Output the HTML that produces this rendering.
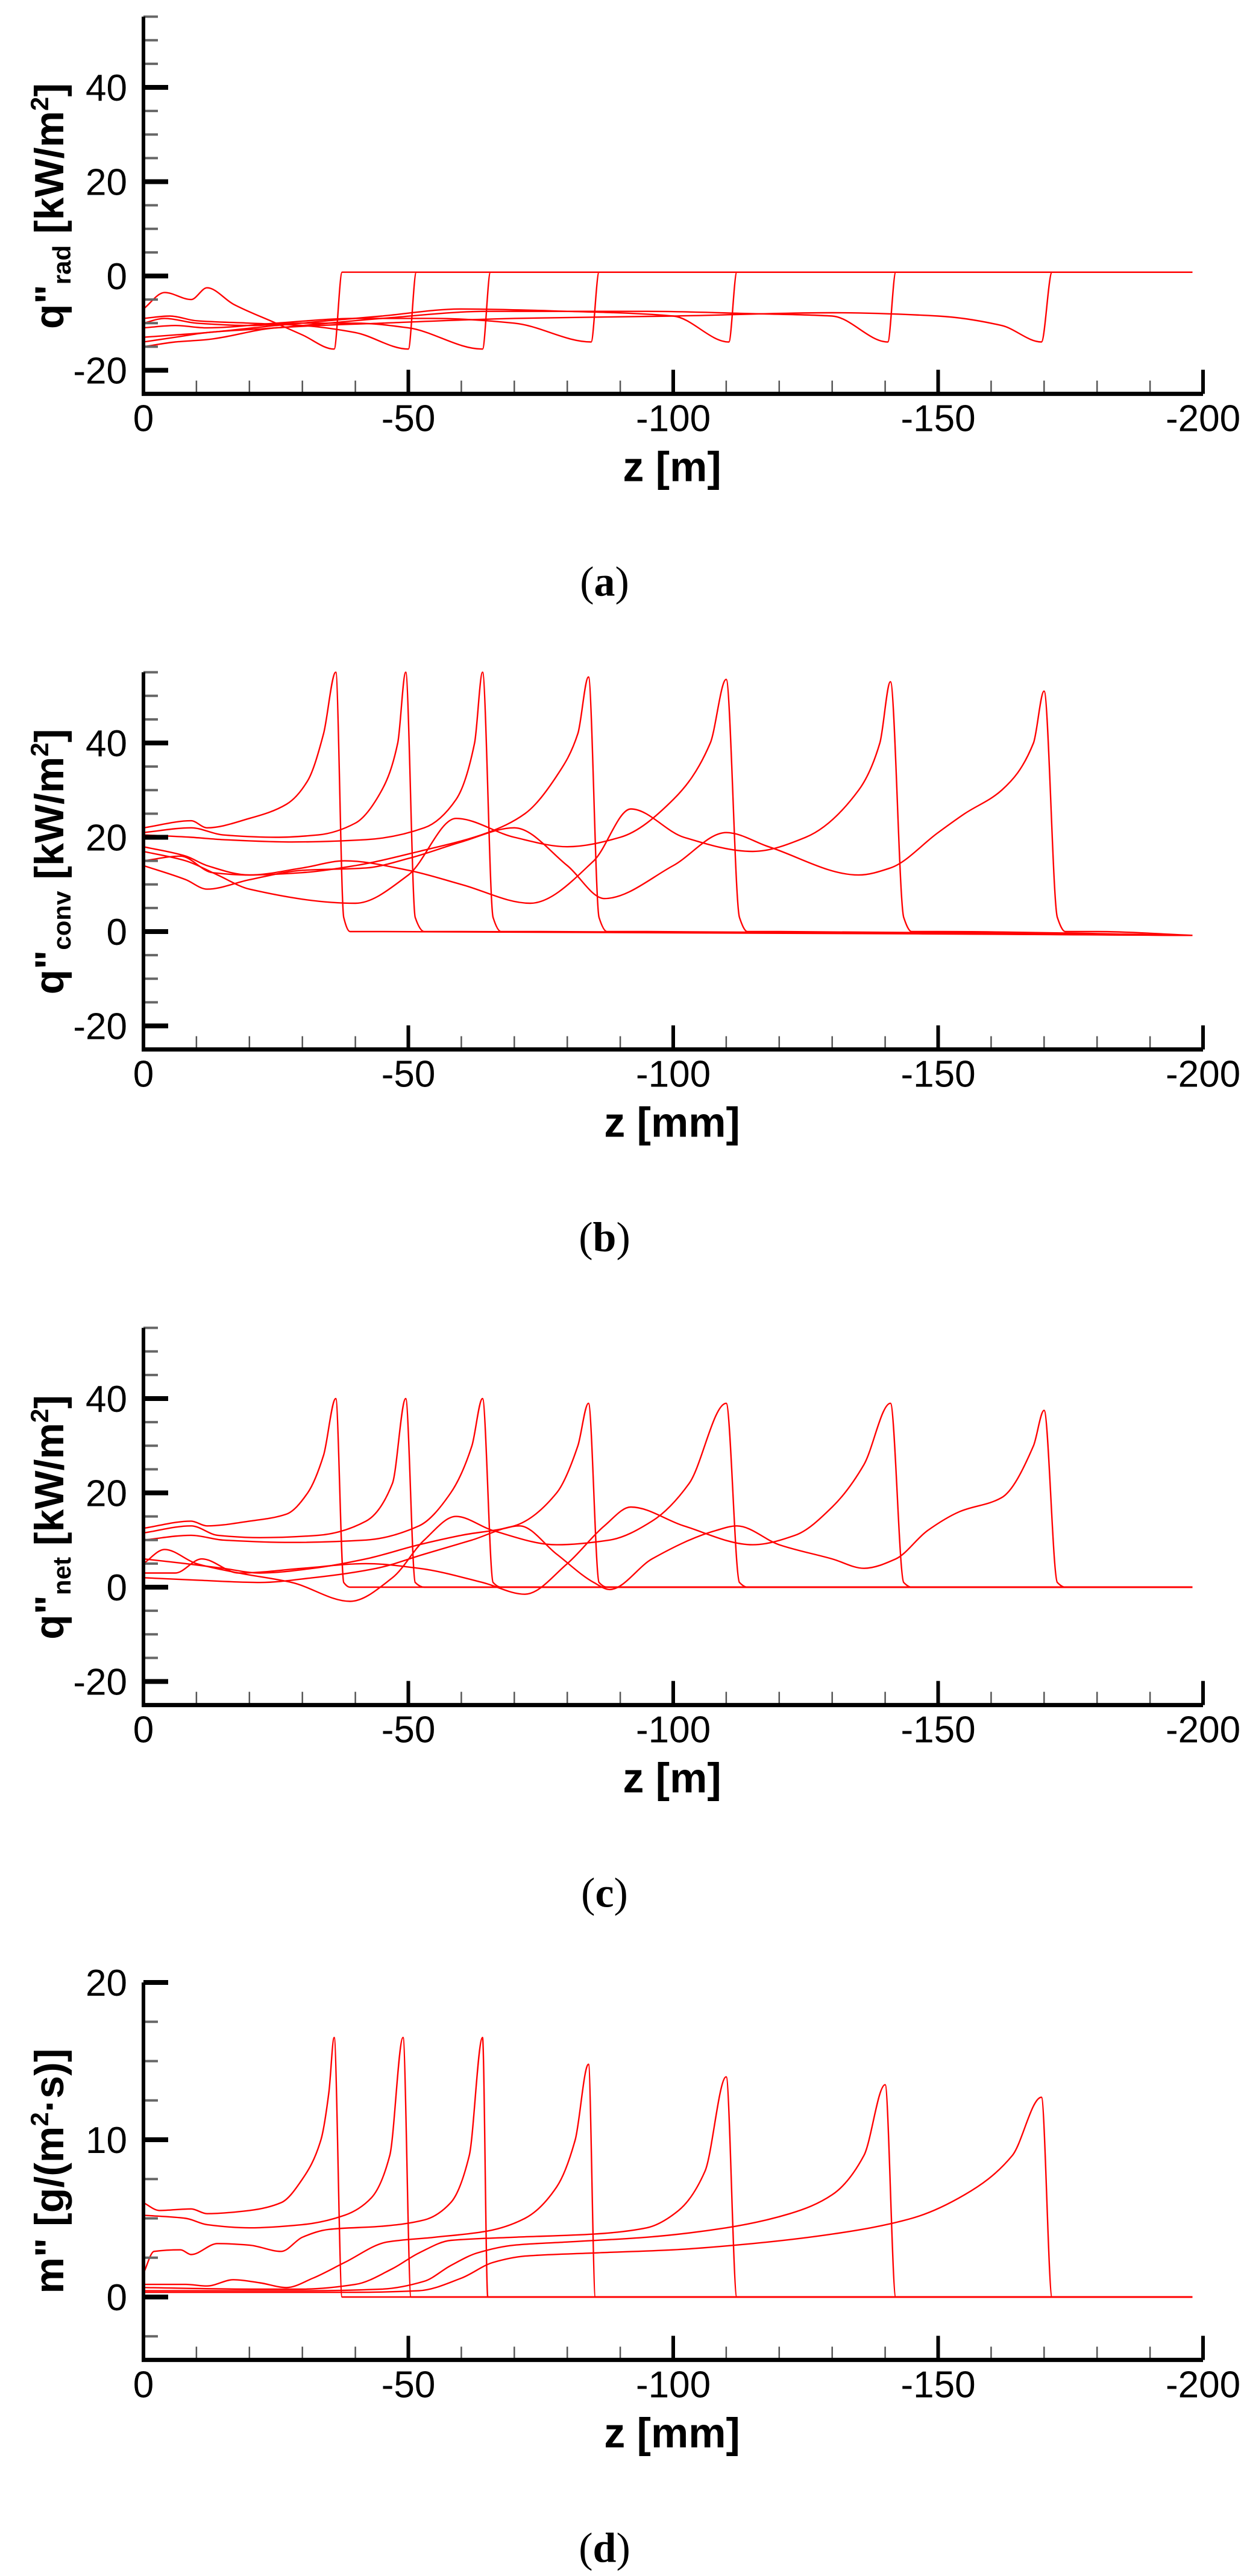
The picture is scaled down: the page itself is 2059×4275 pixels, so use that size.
<!DOCTYPE html>
<html><head><meta charset="utf-8"><style>
html,body{margin:0;padding:0;background:#fff;}
svg{display:block;}
</style></head><body>
<svg id="s" xmlns="http://www.w3.org/2000/svg" width="2059" height="4275" viewBox="0 0 2059 4275"></svg>
<script>
const S=document.getElementById('s');
const NS='http://www.w3.org/2000/svg';
function el(t,a,txt){const e=document.createElementNS(NS,t);for(const k in a)e.setAttribute(k,a[k]);if(txt!==undefined)e.textContent=txt;S.appendChild(e);return e;}
const X0=238,PX=8.79;
function xp(d){return X0+d*PX;}
function smooth(p){ // monotone cubic (Fritsch-Carlson) in x
  const n=p.length;const dx=[],m=[],t=new Array(n);
  for(let i=0;i<n-1;i++){dx.push(p[i+1][0]-p[i][0]);m.push((p[i+1][1]-p[i][1])/dx[i]);}
  t[0]=m[0];t[n-1]=m[n-2];
  for(let i=1;i<n-1;i++){
    if(m[i-1]*m[i]<=0)t[i]=0;
    else{const w1=2*dx[i]+dx[i-1],w2=dx[i]+2*dx[i-1];t[i]=(w1+w2)/(w1/m[i-1]+w2/m[i]);}
  }
  let s='M'+p[0][0].toFixed(1)+','+p[0][1].toFixed(1);
  for(let i=0;i<n-1;i++){
    const h=dx[i]/3;
    s+='C'+(p[i][0]+h).toFixed(1)+','+(p[i][1]+t[i]*h).toFixed(1)+' '+(p[i+1][0]-h).toFixed(1)+','+(p[i+1][1]-t[i+1]*h).toFixed(1)+' '+p[i+1][0].toFixed(1)+','+p[i+1][1].toFixed(1);
  }
  return s;
}
function panel(o){
  const y=v=>o.y0-v*o.ppu;
  const top=y(o.vmax),bot=y(o.vmin);
  o.curves.forEach(c=>{
    const pts=[];for(let i=0;i<c.length;i+=2)pts.push([xp(c[i+1]),y(c[i])]);
    pts.push([xp(198),y(o.tail)]);
    el('path',{d:smooth(pts),fill:'none',stroke:'#ff0000','stroke-width':2.4,'stroke-linejoin':'round'});
  });
  const v0=Math.ceil(o.vmin/o.minor)*o.minor;
  for(let k=0;;k++){
    const v=v0+k*o.minor; if(v>o.vmax+1e-6)break;
    const isMaj=Math.abs(v/o.major-Math.round(v/o.major))<1e-6;
    if(isMaj){el('line',{x1:238,y1:y(v),x2:279,y2:y(v),stroke:'#000','stroke-width':8});
      el('text',{x:211,y:y(v)+22,'text-anchor':'end','font-family':'Liberation Sans, sans-serif','font-size':62},String(Math.round(v)));}
    else el('line',{x1:238,y1:y(v),x2:262,y2:y(v),stroke:'#666','stroke-width':4});
  }
  for(let d=0;d<=200;d+=10){
    const maj=d%50===0;
    el('line',{x1:xp(d),y1:bot,x2:xp(d),y2:bot-(maj?40:22),stroke:maj?'#000':'#555','stroke-width':maj?6:2.5});
    if(maj)el('text',{x:xp(d),y:bot+62,'text-anchor':'middle','font-family':'Liberation Sans, sans-serif','font-size':62},d===0?'0':'-'+d);
  }
  el('line',{x1:238,y1:top,x2:238,y2:bot+3,stroke:'#000','stroke-width':6});
  el('line',{x1:235,y1:bot,x2:1996,y2:bot,stroke:'#000','stroke-width':7});
  el('text',{x:1115,y:bot+145,'text-anchor':'middle','font-family':'Liberation Sans, sans-serif','font-weight':'bold','font-size':70},o.xl);
  const cap=el('text',{x:1003,y:bot+335,'text-anchor':'middle','font-family':'Liberation Serif, serif','font-size':70});
  cap.innerHTML='(<tspan font-weight="bold">'+o.cap+'</tspan>)';
  const yl=el('text',{transform:'translate(105,'+o.ylc+') rotate(-90)','text-anchor':'middle','font-family':'Liberation Sans, sans-serif','font-weight':'bold','font-size':68});
  yl.innerHTML=o.yl;
}
panel({y0:458,ppu:7.825,vmin:-25,vmax:55,major:20,minor:5,tail:0.8,xl:'z [m]',cap:'a',ylc:342,
 yl:'q"<tspan font-size="42" dy="12">rad</tspan><tspan dy="-12"> [kW/m</tspan><tspan font-size="42" dy="-25">2</tspan><tspan dy="25">]</tspan>',
 curves:[
 [-7,0,-3.5,4,-5,9,-2.5,12,-6,17,-10,25,-12.5,30,-15.5,36,0.8,37.5,0.8,45],
 [-9,0,-8.5,5,-9.5,10,-10,20,-10.5,30,-12,40,-15.5,50,0.8,51.5,0.8,60],
 [-10,0,-9,4,-10,10,-10.5,20,-10,30,-10,40,-11,50,-15.5,64,0.8,65.5,0.8,75],
 [-11,0,-10.5,6,-11,12,-10,25,-9,40,-9,55,-10,70,-14,84.5,0.8,86,0.8,95],
 [-13,0,-12.5,6,-12,12,-10.5,25,-8.5,45,-7,60,-7.5,80,-8.5,100,-14,110.5,0.8,112,0.8,120],
 [-14,0,-13,6,-12,12,-11,25,-9,45,-7.5,65,-7.5,95,-8,115,-8.5,130,-14,140.5,0.8,142,0.8,150],
 [-15,0,-14,6,-13.5,12,-11,25,-10,45,-9,70,-8.5,100,-7.8,130,-8.5,150,-10.5,162,-14,169.5,0.8,171.5,0.8,180]]});
panel({y0:1546,ppu:7.825,vmin:-25,vmax:55,major:20,minor:5,tail:-0.8,xl:'z [mm]',cap:'b',ylc:1430,
 yl:'q"<tspan font-size="42" dy="12">conv</tspan><tspan dy="-12"> [kW/m</tspan><tspan font-size="42" dy="-25">2</tspan><tspan dy="25">]</tspan>',
 curves:[
 [22,0,23.5,9,22,12,24,20,27,27,32,31,42,34,55,36.3,3,37.8,0,39,0,45],
 [21,0,22,9,20.5,15,20,25,20.5,33,23,40,30,45,40,48,55,49.5,3,51.3,0,53,0,60],
 [20.5,0,20,9,19.5,15,19,28,19.5,42,22,53,28,59,40,62.5,55,64,3,66,0,67.5,0,75],
 [18,0,16,8,14,12,12,20,12.5,30,14,40,17,52,21,65,25,72,33,78,42,82,54,84,3,86,0,87.5,0,95],
 [17,0,15,8,12,14,9,20,6,40,12,50,24,59,20,70,18,80,20,90,28,100,40,107,53.5,110,3,112.5,0,114,0,120],
 [15,0,16,7,12.5,13,12,20,13.5,30,15,38,13,50,10,60,6,73,15,85,26,92,20,102,17,115,20,125,30,135,40,139,53,141,3,143.5,0,145,0,150],
 [14,0,11,8,9,12,11,20,13,30,13.5,42,15.5,50,19,60,22,70,14,80,7,87,14,100,21,110,18,118,12,135,13.5,141,21,150,25,155,30,162,40,168,51,170,3,172.5,0,174,0,180]]});
panel({y0:2634,ppu:7.825,vmin:-25,vmax:55,major:20,minor:5,tail:0,xl:'z [m]',cap:'c',ylc:2518,
 yl:'q"<tspan font-size="42" dy="12">net</tspan><tspan dy="-12"> [kW/m</tspan><tspan font-size="42" dy="-25">2</tspan><tspan dy="25">]</tspan>',
 curves:[
 [12.5,0,14,9,13,12,14,20,15.5,27,20,31,28,34,40,36.3,1,37.8,0,39,0,45],
 [11.5,0,13,9,11,14,10.5,22,11,33,14,42,22,47,40,49.5,1,51.3,0,53,0,60],
 [10,0,11,9,10,15,9.5,28,10,42,13,52,20,58,30,62,40,64,1,66,0,67.5,0,75],
 [6,0,5,8,4,15,3,22,4,32,6,42,9,52,11,60,13,70,20,78,30,82,39,84,1,86,0,87.5,0,95],
 [5,0,8,4,5,10,3,18,1,28,-3,39,2,47,10,53,15,59,12,66,9,78,10,88,14,96,22,103,39,110,1,112.5,0,114,0,120],
 [3,0,3,6,6,11,3,18,4,30,5,42,4,52,1,64,-1.5,72,5,80,13,87,17,92,13,102,9,115,11,123,17,130,26,136,39,141,1,143.5,0,145,0,150],
 [2,0,1.5,10,1,22,2,32,4,44,7,53,10,62,13,71,7,78,1,85,-0.5,88,6,96,12,108,13,112,9,120,6,130,4,136,6,142,12,148,16,154,19,162,30,168,37.5,170,1,172.5,0,174,0,180]]});
panel({y0:3812,ppu:26.1,vmin:-4,vmax:20,major:10,minor:2.5,tail:0,xl:'z [mm]',cap:'d',ylc:3603,
 yl:'m"   [g/(m<tspan font-size="42" dy="-25">2</tspan><tspan dy="25">·s)]</tspan>',
 curves:[
 [6,0,5.5,3,5.6,9,5.3,12,5.5,20,6,26,7.5,30,10,33.5,13,35,16.5,36,0,37.5,0,42],
 [5.2,0,5,8,4.6,12,4.4,20,4.6,30,5.2,38,6.3,43,9,46.5,16.5,49,0,50.5,0,56],
 [1.5,0,2.9,2,3,7,2.7,9,3.4,14,3.3,20,2.9,26,3.8,30,4.3,35,4.5,45,4.9,53,6,58,9,61.5,16.5,64,0,65,0,70],
 [0.8,0,0.8,8,0.7,12,1.1,17,0.9,22,0.6,27,1.2,32,2.2,38,3.5,46,3.8,55,4.2,65,5,72,7,78,10,81.5,14.8,84,0,85.3,0,90],
 [0.6,0,0.5,20,0.5,30,0.8,40,1.8,47,2.8,52,3.6,58,3.8,70,4,85,4.4,95,5.5,101,8,106,14,110,0,112,0,118],
 [0.4,0,0.4,30,0.5,45,1,53,2,58,2.8,63,3.3,70,3.5,80,3.8,95,4.4,110,5.3,122,6.5,130,9,136,13.5,140,0,142,0,148],
 [0.3,0,0.3,40,0.4,52,1.2,60,2.2,66,2.6,72,2.8,85,3,100,3.4,115,4,130,5,145,6.5,155,9,164,12.7,169.5,0,171.5,0,178]]});
</script>
</body></html>
